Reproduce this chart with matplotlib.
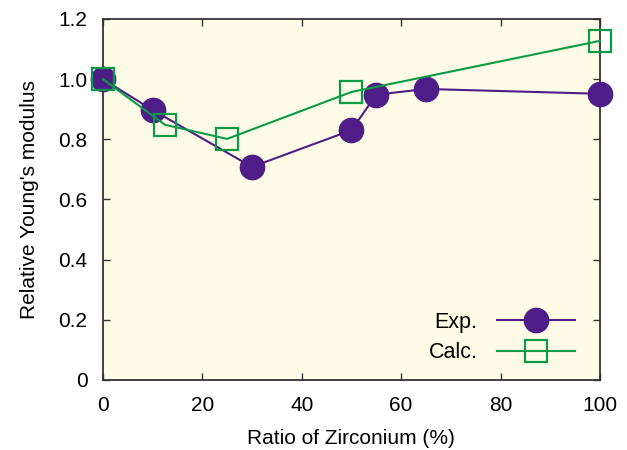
import numpy as np
import matplotlib
matplotlib.use('Agg')
import matplotlib.pyplot as plt

plt.rcParams['font.family'] = ['Liberation Sans', 'DejaVu Sans']

# data
exp_x = [0, 10, 30, 50, 55, 65, 100]
exp_y = [1.00, 0.897, 0.708, 0.830, 0.948, 0.967, 0.951]
calc_x = [0, 12.5, 25, 50, 100]
calc_y = [1.00, 0.848, 0.801, 0.957, 1.127]

PURPLE = '#4E1D87'
GREEN = '#0A9A48'

fig = plt.figure(figsize=(6.27, 4.5), dpi=100)
ax = fig.add_axes([0.164, 0.156, 0.793, 0.802])
ax.set_facecolor('#FEFCE6')

ax.plot(exp_x, exp_y, '-o', color=PURPLE, lw=1.5, ms=17.5, label='Exp.', zorder=3,
        clip_on=False)
ax.plot(calc_x, calc_y, '-s', color=GREEN, lw=1.5, ms=16.5, mfc='none', mew=1.6,
        label='Calc.', zorder=4, clip_on=False)

ax.set_xlim(0, 100)
ax.set_ylim(0, 1.2)
ax.set_xticks([0, 20, 40, 60, 80, 100])
ax.set_yticks([0, 0.2, 0.4, 0.6, 0.8, 1.0, 1.2])
ax.set_yticklabels(['0', '0.2', '0.4', '0.6', '0.8', '1.0', '1.2'])
ax.tick_params(direction='in', top=True, right=True, labelsize=15, length=5,
               width=1, color='#333333')
ax.tick_params(axis='x', pad=11.5)
ax.tick_params(axis='y', pad=11)
for sp in ax.spines.values():
    sp.set_color('#333333')
    sp.set_linewidth(1.3)

ax.set_xlabel('Ratio of Zirconium (%)', fontsize=15, labelpad=10)
ax.set_ylabel("Relative Young's modulus", fontsize=15, labelpad=14)

leg = ax.legend(loc='lower right', bbox_to_anchor=(0.966, 0.022), borderaxespad=0,
                frameon=False, fontsize=15.5, markerfirst=False,
                handlelength=3.6, handletextpad=0.9, labelspacing=0.45)

fig.savefig('out.png', dpi=100, facecolor='white')
